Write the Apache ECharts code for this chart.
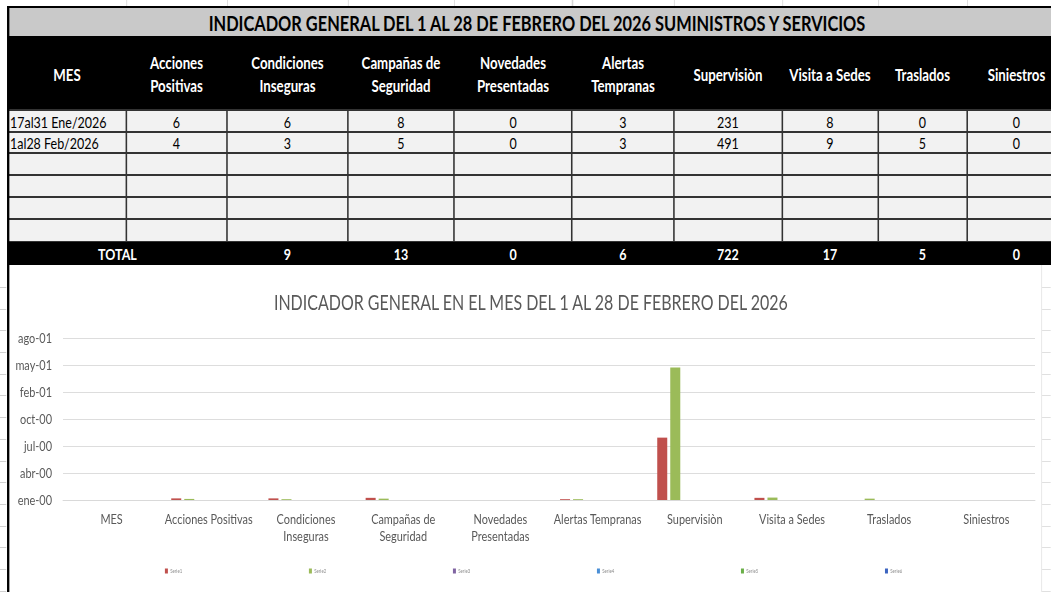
<!DOCTYPE html>
<html><head><meta charset="utf-8">
<script src="https://cdn.jsdelivr.net/npm/echarts@6/dist/echarts.min.js"></script>
<style>
html,body{margin:0;padding:0;background:#fff;overflow:hidden;width:1051px;height:592px;}
#page{position:absolute;left:0;top:0;height:592px;transform-origin:0 0;font-family:Lato,'Open Sans',sans-serif;}
.c{position:absolute;display:flex;align-items:center;justify-content:center;text-align:center;white-space:pre;box-sizing:border-box;}
.b{position:absolute;box-sizing:border-box;}
</style></head><body><div id="page"></div>
<script>
// ---------- data ----------
const tableTitle = 'INDICADOR GENERAL DEL 1 AL 28 DE FEBRERO DEL 2026 SUMINISTROS Y SERVICIOS';
const chartTitle = 'INDICADOR GENERAL EN EL MES DEL 1 AL 28 DE FEBRERO DEL 2026';
const columnHeaders = ['MES','Acciones\nPositivas','Condiciones\nInseguras','Campañas de\nSeguridad','Novedades\nPresentadas','Alertas\nTempranas','Supervisiòn','Visita a Sedes','Traslados','Siniestros'];
const categories = ['MES','Acciones Positivas','Condiciones\nInseguras','Campañas de\nSeguridad','Novedades\nPresentadas','Alertas Tempranas','Supervisiòn','Visita a Sedes','Traslados','Siniestros'];
const periods = ['17al31 Ene/2026','1al28 Feb/2026'];
const valuesEne = [6,6,8,0,3,231,8,0,0];
const valuesFeb = [4,3,5,0,3,491,9,5,0];
const totalLabel = 'TOTAL';
const seriesNames = ['Serie1','Serie2','Serie3','Serie4','Serie5','Serie6'];
const seriesColors = ['#c0504d','#9bbb59','#8064a2','#4a8fd6','#6aaf48','#3c64c0'];
const yTickLabels = ['ene-00','abr-00','jul-00','oct-00','feb-01','may-01','ago-01'];

// ---------- layout (original pixel units, horizontally compressed) ----------
const S = 0.78;
const W = Math.ceil(1051 / S) + 20;
const px = x => x / S;
const colEdges = [8,126,227,348,454,572,674,782,878,967,1066];
const rowEdges = [110,132,153,175,197,219,242];
const page = document.getElementById('page');
page.style.width = W + 'px';
page.style.transform = 'scaleX(' + S + ')';

function el(cls, x0, x1, y0, y1, css, text) {
  const d = document.createElement('div');
  d.className = cls;
  d.style.left = px(x0) + 'px';
  d.style.width = (px(x1) - px(x0)) + 'px';
  d.style.top = y0 + 'px';
  d.style.height = (y1 - y0) + 'px';
  if (css) d.style.cssText += css;
  if (text !== undefined) d.textContent = text;
  page.appendChild(d);
  return d;
}

// faint spreadsheet grid bits
for (let i = 1; i < colEdges.length; i++) el('b', colEdges[i], colEdges[i] + 1, 0, 6, 'background:#d6d6d6');
for (let y = 287; y < 592; y += 21.7) {
  el('b', 0, 6, Math.round(y), Math.round(y) + 1, 'background:#d0d0d0');
  el('b', 1042, 1051, Math.round(y), Math.round(y) + 1, 'background:#e0e0e0');
}
el('b', 1041, 1042, 265, 592, 'background:#e2e2e2');

// title band
el('b', 8, 1066, 6, 36, 'background:#c9c9c9;border-top:2px solid #000');
el('c', 8, 1066, 8, 36, 'font-weight:bold;font-size:21px;color:#000', tableTitle);
// header band
el('b', 8, 1066, 36, 110, 'background:#000');
columnHeaders.forEach((h, i) => {
  el('c', colEdges[i], colEdges[i + 1], 38, 110, 'font-weight:bold;font-size:17px;line-height:23px;color:#fff', h);
});
// data area
el('b', 8, 1066, 110, 242, 'background:#f2f2f2');
const rows = [valuesEne, valuesFeb];
rows.forEach((vals, r) => {
  el('c', colEdges[0], colEdges[1], rowEdges[r], rowEdges[r + 1], 'justify-content:flex-start;padding-left:' + px(2) + 'px;font-size:16px;color:#000', periods[r]);
  vals.forEach((v, j) => {
    el('c', colEdges[j + 1], colEdges[j + 2], rowEdges[r], rowEdges[r + 1], 'font-size:16px;color:#000', String(v));
  });
});
rowEdges.forEach(y => el('b', 8, 1066, y - 1, y + 1, 'background:#333'));
colEdges.slice(1).forEach(x => el('b', x - 0.8, x + 0.8, 110, 242, 'background:#333'));
// total band
el('b', 8, 1066, 242, 265, 'background:#000');
el('c', colEdges[0], colEdges[2], 242, 265, 'font-weight:bold;font-size:16px;color:#fff', totalLabel);
valuesEne.slice(1).forEach((v, j) => {
  el('c', colEdges[j + 2], colEdges[j + 3], 242, 265, 'font-weight:bold;font-size:16px;color:#fff', String(v + valuesFeb[j + 1]));
});
// left border of the whole block
el('b', 7, 9, 6, 592, 'background:#000');

// ---------- chart ----------
const chartDiv = el('b', 0, W * S, 265, 592, '');
chartDiv.style.left = '0px';
chartDiv.style.width = W + 'px';
const chart = echarts.init(chartDiv, null, {renderer: 'svg'});

const series = seriesNames.map((name, i) => ({
  name: name,
  type: 'bar',
  data: i === 0 ? [null].concat(valuesEne) : (i === 1 ? [null].concat(valuesFeb) : []),
  itemStyle: {color: seriesColors[i]},
  barGap: '30%',
  barCategoryGap: '22.7%'
}));

chart.setOption({
  animation: false,
  textStyle: {fontFamily: 'Lato'},
  title: {
    text: chartTitle, left: px(527), top: 22, textAlign: 'center',
    textStyle: {fontSize: 20.5, fontWeight: 'normal', color: '#595959', fontFamily: 'Lato'}
  },
  legend: {
    data: seriesNames, top: 298, left: px(161), icon: 'rect',
    itemWidth: px(3), itemHeight: 5, itemGap: 162.5,
    textStyle: {fontSize: 5.5, color: '#8c8c8c', padding: [0, 0, 0, -2]}
  },
  grid: {left: px(63), right: W - px(1035), top: 73, bottom: 92, containLabel: false},
  xAxis: {
    type: 'category', data: categories,
    axisLine: {lineStyle: {color: '#d9d9d9'}},
    axisTick: {show: false},
    axisLabel: {color: '#595959', fontSize: 14, lineHeight: 17, margin: 10, interval: 0}
  },
  yAxis: {
    type: 'value', min: 0, max: 600, interval: 100,
    axisLine: {show: false}, axisTick: {show: false},
    splitLine: {lineStyle: {color: '#d9d9d9'}},
    axisLabel: {color: '#595959', fontSize: 14, margin: px(11), formatter: v => yTickLabels[Math.round(v / 100)]}
  },
  series: series
});
</script></body></html>
